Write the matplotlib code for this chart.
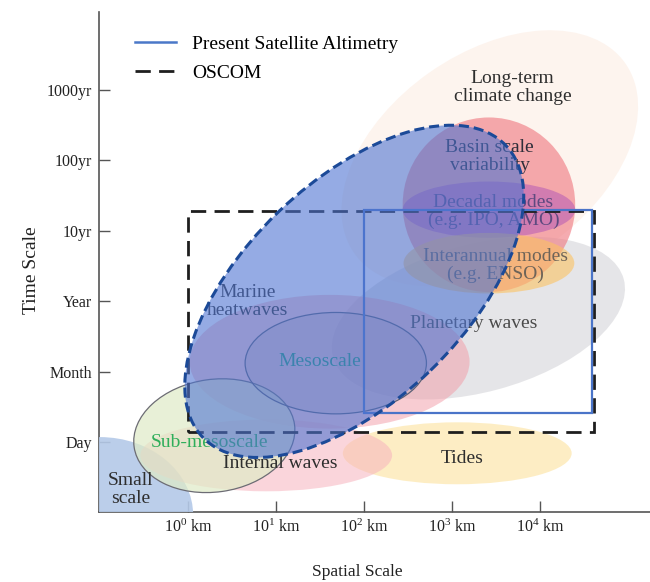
import matplotlib
matplotlib.use("Agg")
import matplotlib.pyplot as plt
from matplotlib.patches import Ellipse, Rectangle
from matplotlib.lines import Line2D
from matplotlib.transforms import Affine2D
from matplotlib.colors import to_rgba

plt.rcParams['font.family'] = ['Liberation Serif', 'DejaVu Serif']
plt.rcParams['mathtext.fontset'] = 'custom'
plt.rcParams['mathtext.rm'] = 'Liberation Serif'
plt.rcParams['mathtext.it'] = 'Liberation Serif:italic'

# ---- axes ticks ----
x_ticks = [0, 1, 2, 3, 4]
x_labels = [r'$10^{0}$ km', r'$10^{1}$ km', r'$10^{2}$ km', r'$10^{3}$ km', r'$10^{4}$ km']
y_ticks = [0, 1, 2, 3, 4, 5]
y_labels = ['Day', 'Month', 'Year', '10yr', '100yr', '1000yr']

# ---- regions: name, centre log10(km), centre time index, half-width (decades),
#      half-height (time units), tilt (deg) ----
region_names = ['Long-term climate change', 'Planetary waves', 'Basin scale variability',
                'Decadal modes', 'Interannual modes', 'Marine heatwaves', 'Tides',
                'Internal waves', 'Small scale', 'Sub-mesoscale', 'Mesoscale', 'OSCOM coverage']
region_cx = [3.43, 3.30, 3.42, 3.42, 3.42, 1.61, 3.06, 0.89, -1.00, 0.30, 1.68, 1.89]
region_cy = [4.03, 1.76, 3.37, 3.30, 2.54, 1.14, -0.16, -0.19, -1.04, 0.09, 1.12, 2.14]
region_rx = [1.88, 1.71, 0.98, 0.98, 0.97, 1.59, 1.30, 1.43, 1.06, 0.92, 1.03, 2.39]
region_ry = [1.49, 1.05, 1.24, 0.40, 0.43, 0.95, 0.44, 0.51, 1.11, 0.80, 0.72, 1.56]
region_tilt = [35, 15, 0, 0, 0, 0, 0, 0, 0, 8, 0, 44]

# ---- observing system boxes: (x0, x1) log10 km, (y0, y1) time index ----
oscom_x = [0.0, 4.61]
oscom_y = [0.14, 3.28]
altim_x = [2.0, 4.59]
altim_y = [0.41, 3.29]

# ---- labels: text, x, y ----
label_text = ['Long-term\nclimate change', 'Basin scale\nvariability', 'Decadal modes\n(e.g. IPO, AMO)',
              'Interannual modes\n(e.g. ENSO)', 'Planetary waves', 'Marine\nheatwaves', 'Mesoscale',
              'Sub-mesoscale', 'Internal waves', 'Small\nscale', 'Tides']
label_x = [3.69, 3.43, 3.47, 3.49, 3.25, 0.68, 1.50, 0.24, 1.05, -0.65, 3.11]
label_y = [5.03, 4.05, 3.27, 2.51, 1.69, 2.00, 1.14, -0.01, -0.30, -0.68, -0.24]
label_color = ['#2e2e2e', '#2e2e3a', '#5e4a80', '#6e6458', '#4a4a4a', '#2e2e2e', '#1f9a78',
               '#2fae5a', '#2e2e2e', '#2e2e2e', '#2e2e2e']

styles = {
    'Long-term climate change': dict(fc='#fbe0cf', alpha=0.35, ec='none', z=1),
    'Planetary waves': dict(fc='#d8d8dc', alpha=0.65, ec='none', z=2),
    'Basin scale variability': dict(fc='#f07880', alpha=0.62, ec='none', z=3),
    'Decadal modes': dict(fc='#a848b8', alpha=0.45, ec='none', z=4),
    'Interannual modes': dict(fc='#fcc262', alpha=0.6, ec='none', z=5),
    'Marine heatwaves': dict(fc='#f29aa6', alpha=0.5, ec='none', z=3),
    'Tides': dict(fc='#fde8b0', alpha=0.75, ec='none', z=3),
    'Internal waves': dict(fc='#f7b4be', alpha=0.55, ec='none', z=3.5),
    'Small scale': dict(fc='#b4c9e8', alpha=0.9, ec='none', z=3),
    'Sub-mesoscale': dict(fc='#dfebc6', alpha=0.7, ec='#6c6c74', z=4),
    'Mesoscale': dict(fc='#8890a0', alpha=0.18, ec='#5a5f75', z=5),
    'OSCOM coverage': dict(fc='#4e74d2', alpha=0.6, ec='#1c4a98', z=8),
}

W, H = 650, 582
fig = plt.figure(figsize=(W / 100, H / 100), dpi=100)
ax = fig.add_axes([99 / W, (H - 512) / H, (W - 99) / W, 500 / H])
ax.set_xlim(-1.01, 5.25)
ax.set_ylim(-0.994, 6.108)

# aspect factor between the two data units on screen
p0 = ax.transData.transform((0, 0))
p1 = ax.transData.transform((1, 1))
k = (p1[1] - p0[1]) / (p1[0] - p0[0])
tr = Affine2D().scale(1, 1 / k) + ax.transData

for name, cx, cy, rx, ry, tilt in zip(region_names, region_cx, region_cy,
                                       region_rx, region_ry, region_tilt):
    st = styles[name]
    e = Ellipse((cx, cy * k), 2 * rx, 2 * ry * k, angle=tilt, transform=tr, zorder=st['z'])
    e.set_facecolor(to_rgba(st['fc'], st['alpha']))
    if name == 'OSCOM coverage':
        e.set_edgecolor(st['ec'])
        e.set_linewidth(2.2)
        e.set_linestyle((0, (3.3, 1.6)))
    elif st['ec'] != 'none':
        e.set_edgecolor(st['ec'])
        e.set_linewidth(0.9)
    else:
        e.set_edgecolor('none')
    e.set_clip_path(ax.patch)
    ax.add_patch(e)

for t, x, y, c in zip(label_text, label_x, label_y, label_color):
    ax.text(x, y, t, ha='center', va='center', fontsize=14, color=c,
            linespacing=1.08, zorder=6)

ax.add_patch(Rectangle((oscom_x[0], oscom_y[0]), oscom_x[1] - oscom_x[0], oscom_y[1] - oscom_y[0],
                       fill=False, ec='#1e1e1e', lw=2, ls=(0, (5.5, 3)), zorder=7))
ax.add_patch(Rectangle((altim_x[0], altim_y[0]), altim_x[1] - altim_x[0], altim_y[1] - altim_y[0],
                       fill=False, ec='#4a74c8', lw=1.6, zorder=7))

# axes styling
for s in ['top', 'right']:
    ax.spines[s].set_visible(False)
for s in ['left', 'bottom']:
    ax.spines[s].set_color('#555555')
    ax.spines[s].set_linewidth(1.2)
ax.set_xticks(x_ticks)
ax.set_xticklabels(x_labels)
ax.set_yticks(y_ticks)
ax.set_yticklabels(y_labels)
ax.tick_params(direction='in', length=8, width=1, color='#555555', labelsize=11.5,
               labelcolor='#222222')
ax.tick_params(axis='y', pad=5)
ax.tick_params(axis='x', pad=5)

ax.set_xlabel('Spatial Scale', fontsize=12.5, color='#222222', va='center')
ax.xaxis.set_label_coords(0.468, -0.12)
ax.set_ylabel('Time Scale', fontsize=14, color='#222222', va='center')
ax.yaxis.set_label_coords(-0.123, 0.484)

handles = [Line2D([], [], color='#4a78c8', lw=1.8),
           Line2D([], [], color='#1e1e1e', lw=2, ls=(0, (5.5, 3)))]
fig.legend(handles, ['Present Satellite Altimetry', 'OSCOM'], loc='upper left',
           bbox_to_anchor=(135 / W, 1 - 35 / H), frameon=False, fontsize=14,
           handlelength=2.1, handletextpad=0.85, labelspacing=0.6, borderpad=0,
           borderaxespad=0)

fig.savefig('out.png', dpi=100)
